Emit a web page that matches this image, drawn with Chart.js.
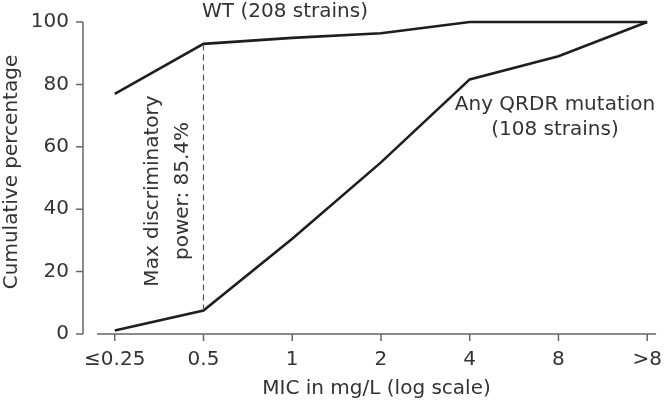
<!DOCTYPE html>
<html>
<head>
<meta charset="utf-8">
<script src="https://cdn.jsdelivr.net/npm/chart.js@4"></script>
<style>
  html, body { margin: 0; padding: 0; background: #fff; }
  #wrap { width: 664px; height: 405px; }
</style>
</head>
<body>
<div id="wrap"><canvas id="micChart"></canvas></div>
<script>
// MIC categories (log scale, evenly spaced)
var micLabels = ['≤0.25', '0.5', '1', '2', '4', '8', '>8'];
// cumulative percentage per group
var wtValues = [77, 93, 94.9, 96.4, 100, 100, 100];
var qrdrValues = [1.1, 7.5, 30.5, 55, 81.6, 89, 100];
var yTicks = [0, 20, 40, 60, 80, 100];

var FONT = 'DejaVu Sans';
var TEXT = '#333';
var AXIS = '#666';

function toPoints(values) {
    return values.map(function (v, i) { return { x: i, y: v }; });
}

// axis lines, dashed marker and text labels
var decorPlugin = {
    id: 'decor',
    afterDraw: function (chart) {
        var ctx = chart.ctx;
        var xs = chart.scales.x, ys = chart.scales.y;
        var area = chart.chartArea;
        ctx.save();

        // y axis (detached, left of plot)
        var yx = area.left - 14;
        ctx.strokeStyle = AXIS;
        ctx.lineWidth = 1.5;
        ctx.beginPath();
        ctx.moveTo(yx, ys.getPixelForValue(0));
        ctx.lineTo(yx, ys.getPixelForValue(100));
        yTicks.forEach(function (t) {
            var py = ys.getPixelForValue(t);
            ctx.moveTo(yx - 7, py);
            ctx.lineTo(yx, py);
        });
        ctx.stroke();

        // x axis
        ctx.beginPath();
        ctx.moveTo(area.left, area.bottom);
        ctx.lineTo(area.right, area.bottom);
        micLabels.forEach(function (l, i) {
            var px = xs.getPixelForValue(i);
            ctx.moveTo(px, area.bottom);
            ctx.lineTo(px, area.bottom + 7);
        });
        ctx.stroke();

        // max discriminatory power marker at 0.5
        var dx = xs.getPixelForValue(1);
        ctx.strokeStyle = '#555';
        ctx.lineWidth = 1.2;
        ctx.setLineDash([6, 4]);
        ctx.beginPath();
        ctx.moveTo(dx, ys.getPixelForValue(qrdrValues[1]));
        ctx.lineTo(dx, ys.getPixelForValue(wtValues[1]));
        ctx.stroke();
        ctx.setLineDash([]);

        ctx.fillStyle = TEXT;
        ctx.font = '20px "' + FONT + '"';
        ctx.textAlign = 'center';
        ctx.textBaseline = 'middle';
        ctx.fillText('WT (208 strains)', 285, 12);
        ctx.fillText('Any QRDR mutation', 555, 105);
        ctx.fillText('(108 strains)', 555, 130);

        ctx.save();
        ctx.translate(168, 191);
        ctx.rotate(-Math.PI / 2);
        ctx.fillText('Max discriminatory', 0, -15);
        ctx.fillText('power: 85.4%', 0, 15);
        ctx.restore();

        // y axis title
        ctx.translate(12, 172);
        ctx.rotate(-Math.PI / 2);
        ctx.fillText('Cumulative percentage', 0, 0);
        ctx.restore();
    }
};

var ctx = document.getElementById('micChart').getContext('2d');
var chart = new Chart(ctx, {
    type: 'line',
    data: {
        datasets: [{
            label: 'WT (208 strains)',
            data: toPoints(wtValues),
            borderColor: '#1e1e1e',
            borderWidth: 2.6,
            pointRadius: 0,
            tension: 0,
            clip: false
        }, {
            label: 'Any QRDR mutation (108 strains)',
            data: toPoints(qrdrValues),
            borderColor: '#1e1e1e',
            borderWidth: 2.6,
            pointRadius: 0,
            tension: 0,
            clip: false
        }]
    },
    options: {
        responsive: true,
        maintainAspectRatio: false,
        animation: false,
        layout: { padding: { top: 22, right: 4, bottom: 0, left: 0 } },
        plugins: {
            legend: { display: false },
            tooltip: { enabled: false }
        },
        scales: {
            x: {
                type: 'linear',
                min: -0.2,
                max: 6.1,
                afterFit: function (s) { s.height = 71; },
                border: { display: false },
                grid: { drawOnChartArea: false, color: 'transparent', tickLength: 12 },
                ticks: {
                    stepSize: 1,
                    includeBounds: false,
                    autoSkip: false,
                    maxRotation: 0,
                    padding: 2,
                    color: TEXT,
                    font: { family: FONT, size: 20 },
                    callback: function (v) {
                        return Number.isInteger(v) && micLabels[v] !== undefined ? micLabels[v] : '';
                    }
                },
                title: {
                    display: true,
                    text: 'MIC in mg/L (log scale)',
                    color: TEXT,
                    font: { family: FONT, size: 20 },
                    padding: { top: 0, bottom: 4 }
                }
            },
            y: {
                min: 0,
                max: 100,
                afterFit: function (s) { s.width = 97; },
                border: { display: false },
                grid: { drawOnChartArea: false, color: 'transparent', tickLength: 20 },
                ticks: {
                    stepSize: 20,
                    padding: 8,
                    color: TEXT,
                    font: { family: FONT, size: 20 }
                }
            }
        }
    },
    plugins: [decorPlugin]
});
</script>
</body>
</html>
